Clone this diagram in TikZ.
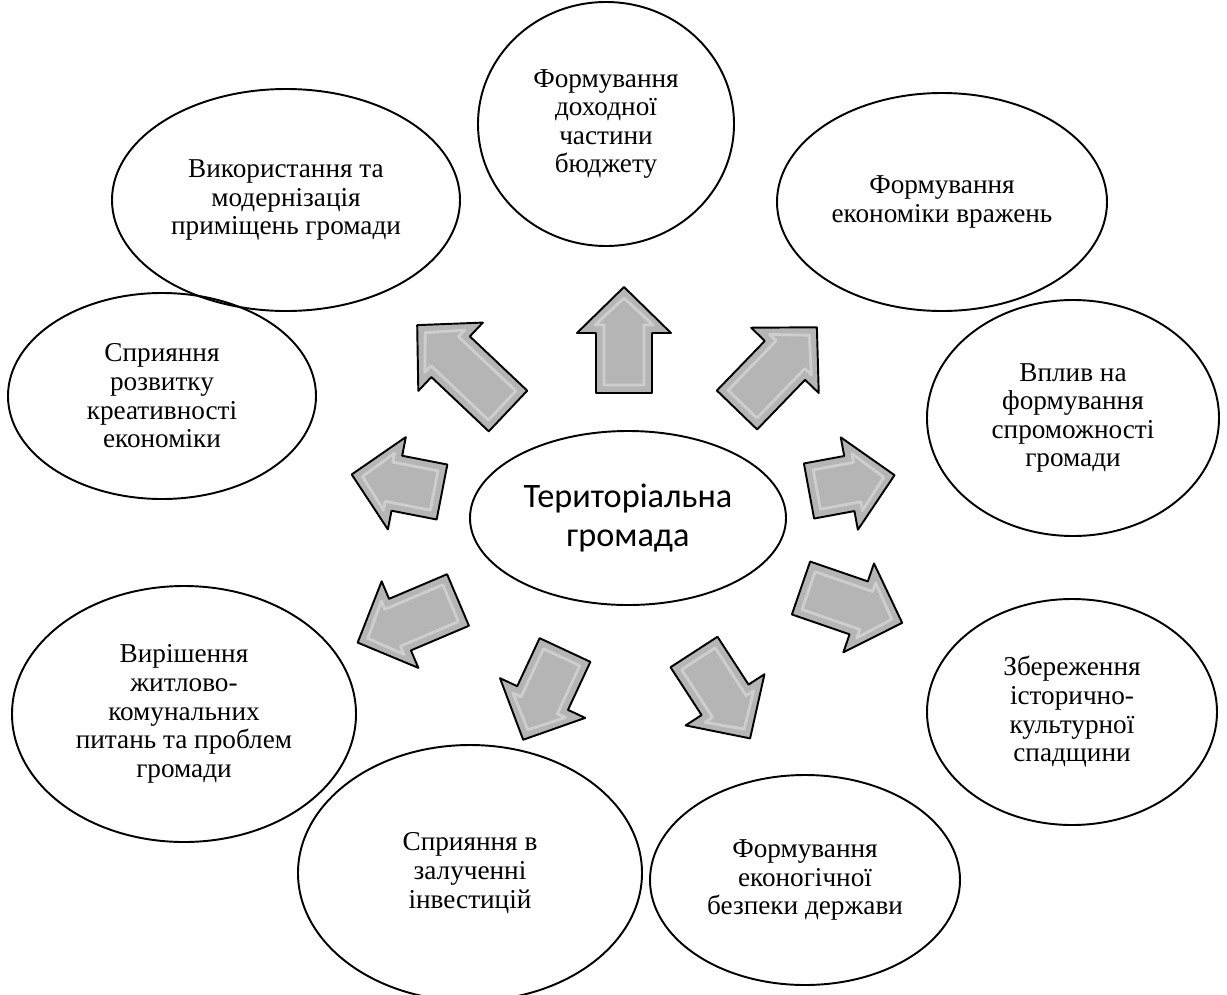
\documentclass[tikz,border=0pt]{standalone}
\usepackage{fontspec}
\setmainfont{Liberation Serif}
\newfontfamily\calibri{Carlito}
\usepackage{xcolor}
\usetikzlibrary{shapes.geometric,positioning}

% block arrow: tail centre, angle, length
\newcommand{\blockarrow}[3]{%
\begin{scope}[shift={#1},rotate=#2]
\filldraw[blockfill](0,-28)--(#3-46,-28)--(#3-46,-47)--(#3,0)--(#3-46,47)--(#3-46,28)--(0,28)--cycle;
\draw[blockshine](8,-20)--(#3-38,-20)--(#3-38,-29)--(#3-11,0)--(#3-38,29)--(#3-38,20)--(8,20)--cycle;
\end{scope}}

\begin{document}
\begin{tikzpicture}[x=0.02cm,y=-0.02cm,
  oval/.style 2 args={ellipse,draw,line width=1.1pt,inner sep=0pt,align=center,
    font=\fontsize{15.5}{16.3}\selectfont,
    minimum width=#1*0.02cm,minimum height=#2*0.02cm},
  blockfill/.style={fill=gray!58,draw=black,line width=1.1pt,line join=round},
  blockshine/.style={draw=white,opacity=0.35,line width=1.6pt,line join=round}]
\useasboundingbox(0,0)rectangle(1227,994);
\clip(0,0)rectangle(1227,994);

% ovals
\node[oval={256}{244}](budget)at(606,124){Формування\\доходної\\частини\\бюджету};
\node[oval={348}{222}](premises)at(286,200){Використання та\\модернізація\\приміщень громади};
\node[oval={330}{218}](impressions)at(942,202){Формування\\економіки вражень};
\node[oval={292}{236}](capacity)at(1073,418){Вплив на\\формування\\спроможності\\громади};
\node[oval={308}{206}](creativity)at(162,396){Сприяння\\розвитку\\креативності\\економіки};
\node[oval={316}{174},font=\calibri\fontsize{19.5}{22.7}\selectfont](community)at(628,518){Територіальна\\громада};
\node[oval={344}{256}](housing)at(184,714){Вирішення\\житлово-\\комунальних\\питань та проблем\\громади};
\node[oval={344}{256}](investment)at(470,873){Сприяння в\\залученні\\інвестицій};
\node[oval={310}{210}](security)at(805,880){Формування\\еконогічної\\безпеки держави};
\node[oval={290}{226}](heritage)at(1072,712){Збереження\\історично-\\культурної\\спадщини};

% arrows
\blockarrow{(624,393)}{90}{106}
\blockarrow{(737,410)}{46}{115}
\blockarrow{(508,411)}{136.6}{125}
\blockarrow{(809,491)}{10.5}{87}
\blockarrow{(442,492)}{169}{92}
\blockarrow{(801,588)}{-19}{107}
\blockarrow{(458,600)}{203}{109}
\blockarrow{(565,650)}{245}{99}
\blockarrow{(694,652)}{-57}{103}
\end{tikzpicture}
\end{document}
